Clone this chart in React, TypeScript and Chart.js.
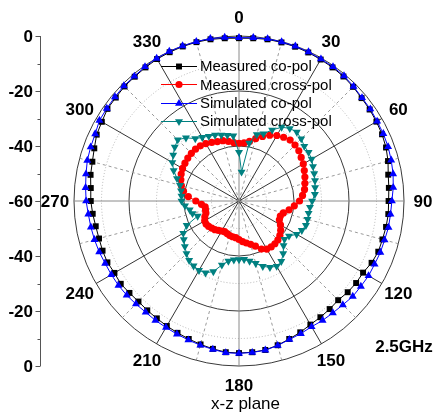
import React, { useEffect, useRef } from 'react';
import { Chart, registerables } from 'chart.js';

Chart.register(...registerables);

// Angle (degrees) of every sample around the pattern
const angles = [
  0, 5, 10, 15, 20, 25, 30, 35, 40, 45, 50, 55, 60, 65, 70, 75, 80, 85,
  90, 95, 100, 105, 110, 115, 120, 125, 130, 135, 140, 145, 150, 155, 160, 165, 170, 175,
  180, 185, 190, 195, 200, 205, 210, 215, 220, 225, 230, 235, 240, 245, 250, 255, 260, 265,
  270, 275, 280, 285, 290, 295, 300, 305, 310, 315, 320, 325, 330, 335, 340, 345, 350, 355,
];

// Normalised gain in dB
const measuredCoPol = [
  -0.8, -0.6, -0.3, -0.3, -0.3, -0.4, -0.6, -0.7, -0.9, -1.3, -1.8, -2.0, -2.3, -2.6, -3.1, -3.9, -4.9, -5.3,
  -5.6, -5.5, -5.7, -6.0, -6.1, -6.8, -7.9, -8.0, -8.4, -9.0, -8.7, -8.4, -8.1, -7.3, -6.6, -5.7, -5.0, -4.8,
  -4.7, -4.8, -5.4, -6.0, -6.6, -7.1, -7.5, -7.9, -8.1, -8.3, -8.0, -7.5, -7.7, -7.2, -7.2, -7.3, -7.1, -6.6,
  -6.1, -5.9, -5.2, -4.8, -4.0, -2.9, -2.4, -1.6, -1.5, -1.1, -1.0, -0.7, -0.4, -0.3, -0.2, -0.2, -0.3, -0.6,
];

const measuredCrossPol = [
  -39.0, -38.8, -38.0, -36.5, -35.0, -33.6, -32.5, -31.7, -31.1, -31.2, -31.6, -32.4, -33.0, -33.8, -34.5, -35.2, -35.8, -36.8,
  -38.0, -39.8, -41.5, -43.3, -44.0, -43.8, -42.6, -41.5, -40.6, -40.0, -39.7, -39.6, -39.8, -40.7, -42.5, -43.7, -44.5, -45.2,
  -46.0, -46.6, -46.8, -47.0, -47.4, -47.7, -47.4, -47.0, -46.4, -46.0, -45.6, -45.4, -45.6, -46.3, -47.2, -47.4, -47.5, -46.3,
  -44.3, -41.5, -39.5, -38.3, -37.5, -36.8, -36.3, -36.0, -35.7, -35.5, -35.4, -35.5, -35.9, -36.5, -37.0, -37.3, -38.0, -38.7,
];

const simulatedCoPol = [
  -0.6, -0.4, -0.1, -0.1, -0.1, -0.2, -0.4, -0.4, -0.6, -1.1, -1.6, -1.7, -2.0, -2.1, -2.3, -2.7, -3.1, -3.7,
  -4.4, -4.7, -4.8, -5.2, -5.3, -5.6, -5.6, -5.9, -6.0, -6.6, -6.9, -7.0, -7.2, -6.8, -6.4, -5.6, -4.9, -4.7,
  -4.6, -4.6, -5.2, -5.7, -6.2, -6.6, -6.9, -7.0, -7.2, -7.0, -6.7, -6.5, -6.4, -6.3, -5.9, -5.6, -5.3, -5.0,
  -4.4, -4.0, -3.5, -2.9, -2.6, -2.3, -1.4, -1.3, -1.1, -0.8, -0.8, -0.4, -0.1, 0.0, 0.0, 0.0, 0.0, -0.3,
];

const simulatedCrossPol = [
  -42.3, -49.4, -38.6, -35.0, -34.0, -31.5, -29.0, -27.8, -27.3, -28.0, -29.0, -29.1, -29.5, -30.3, -30.9, -31.4, -31.9, -32.3,
  -33.4, -34.1, -34.3, -34.2, -34.1, -34.8, -35.8, -37.8, -38.4, -37.1, -35.0, -33.2, -32.6, -33.4, -34.7, -36.5, -37.8, -38.7,
  -38.7, -38.5, -37.8, -35.9, -32.7, -31.2, -30.9, -31.2, -31.8, -33.0, -34.3, -35.5, -36.6, -39.0, -44.0, -42.5, -41.8, -40.3,
  -39.1, -39.0, -38.6, -37.8, -36.0, -33.8, -32.0, -30.8, -29.5, -28.5, -30.0, -32.3, -33.3, -34.0, -34.5, -35.2, -35.7, -36.2,
];

// Angle captions around the rim and the dB scale on the left
const angleTickLabels = ['0', '30', '60', '90', '120', '150', '180', '210', '240', '270', '300', '330'];
const radialTickValues = [0, -10, -20, -30, -40, -50, -60];
const radialTickLabels = ['0', '', '-20', '', '-40', '', '-60'];

const FONT = "'Liberation Sans', Arial, Helvetica, sans-serif";

const TEAL = '#008080';

type Marker = 'rect' | 'circle' | 'triangle' | 'triangleDown';

const seriesMarkers: Marker[] = ['rect', 'circle', 'triangle', 'triangleDown'];

function drawMarker(ctx: CanvasRenderingContext2D, kind: Marker, x: number, y: number, r: number, color: string) {
  ctx.fillStyle = color;
  ctx.beginPath();
  if (kind === 'rect') {
    const s = r * Math.SQRT1_2;
    ctx.rect(x - s, y - s, 2 * s, 2 * s);
  } else if (kind === 'circle') {
    ctx.arc(x, y, r, 0, Math.PI * 2);
  } else {
    const sign = kind === 'triangle' ? 1 : -1;
    for (let k = 0; k < 3; k++) {
      const a = (k * 2 * Math.PI) / 3;
      const px = x + Math.sin(a) * r;
      const py = y - sign * Math.cos(a) * r;
      if (k === 0) ctx.moveTo(px, py);
      else ctx.lineTo(px, py);
    }
    ctx.closePath();
  }
  ctx.fill();
}

const decorPlugin = {
  id: 'polarDecor',
  afterDraw(chart: any) {
    const scale = chart.scales.r;
    const ctx: CanvasRenderingContext2D = chart.ctx;
    const cx = scale.xCenter;
    const cy = scale.yCenter;
    const R = scale.getDistanceFromCenterForValue(0);

    ctx.save();

    // angle captions outside the rim
    ctx.font = `bold 17px ${FONT}`;
    ctx.fillStyle = '#000';
    ctx.textAlign = 'center';
    ctx.textBaseline = 'middle';
    angleTickLabels.forEach((lbl) => {
      const a = (Number(lbl) * Math.PI) / 180;
      const d = R + 19;
      ctx.fillText(lbl, cx + d * Math.sin(a), cy - d * Math.cos(a) + 1);
    });

    // left dB axis, mirrored about the centre
    const axisX = 40.5;
    ctx.strokeStyle = '#555';
    ctx.lineWidth = 1;
    ctx.beginPath();
    ctx.moveTo(axisX, cy - R);
    ctx.lineTo(axisX, cy + R);
    ctx.stroke();

    ctx.textAlign = 'right';
    radialTickValues.forEach((v, i) => {
      const d = scale.getDistanceFromCenterForValue(v);
      const major = radialTickLabels[i] !== '';
      const len = major ? 5 : 3;
      [-1, 1].forEach((side) => {
        const y = Math.round(cy + side * d) + 0.5;
        ctx.beginPath();
        ctx.moveTo(axisX - len, y);
        ctx.lineTo(axisX, y);
        ctx.stroke();
        if (major && !(side === 1 && v === -60)) {
          ctx.fillText(radialTickLabels[i], 33, y + 1);
        }
      });
    });

    // frequency and plane captions
    ctx.textAlign = 'center';
    ctx.fillText('2.5GHz', 404, 347);
    ctx.font = `17px ${FONT}`;
    ctx.fillText('x-z plane', 245.5, 404);

    // legend
    ctx.font = `15px ${FONT}`;
    ctx.textAlign = 'left';
    chart.data.datasets.forEach((ds: any, i: number) => {
      const y = 66 + i * 18.4;
      ctx.strokeStyle = ds.borderColor;
      ctx.lineWidth = 1;
      ctx.beginPath();
      ctx.moveTo(161, Math.round(y) + 0.5);
      ctx.lineTo(197, Math.round(y) + 0.5);
      ctx.stroke();
      drawMarker(ctx, seriesMarkers[i], 179, Math.round(y) + 0.5, ds.pointRadius, ds.pointBackgroundColor);
      ctx.fillStyle = '#000';
      ctx.fillText(ds.label, 200, y + 1);
    });

    ctx.restore();
  },
};

export default function App() {
  const canvasRef = useRef<HTMLCanvasElement>(null);

  useEffect(() => {
    const canvas = canvasRef.current;
    if (!canvas) return;

    const chart = new Chart(canvas, {
      type: 'radar',
      data: {
        labels: angles.map(String),
        datasets: [
          {
            label: 'Measured co-pol',
            data: measuredCoPol,
            borderColor: '#000000',
            backgroundColor: '#000000',
            pointBackgroundColor: '#000000',
            pointBorderColor: '#000000',
            borderWidth: 1,
            pointBorderWidth: 0,
            pointStyle: 'rect',
            pointRadius: 4.2,
            fill: false,
            order: 4,
          },
          {
            label: 'Measured cross-pol',
            data: measuredCrossPol,
            borderColor: '#ff0000',
            backgroundColor: '#ff0000',
            pointBackgroundColor: '#ff0000',
            pointBorderColor: '#ff0000',
            borderWidth: 1,
            pointBorderWidth: 0,
            pointStyle: 'circle',
            pointRadius: 3.6,
            fill: false,
            order: 3,
          },
          {
            label: 'Simulated co-pol',
            data: simulatedCoPol,
            borderColor: '#0000ff',
            backgroundColor: '#0000ff',
            pointBackgroundColor: '#0000ff',
            pointBorderColor: '#0000ff',
            borderWidth: 1,
            pointBorderWidth: 0,
            pointStyle: 'triangle',
            pointRadius: 4.6,
            fill: false,
            order: 2,
          },
          {
            label: 'Simulated cross-pol',
            data: simulatedCrossPol,
            borderColor: TEAL,
            backgroundColor: TEAL,
            pointBackgroundColor: TEAL,
            pointBorderColor: TEAL,
            borderWidth: 1,
            pointBorderWidth: 0,
            pointStyle: 'triangle',
            pointRotation: 180,
            pointRadius: 4.6,
            fill: false,
            order: 1,
          },
        ],
      },
      options: {
        responsive: false,
        animation: false,
        devicePixelRatio: 1,
        layout: { padding: { left: 74, right: 32, top: 36, bottom: 54 } },
        elements: { line: { tension: 0 } },
        plugins: {
          legend: { display: false },
          tooltip: { enabled: false },
        },
        scales: {
          r: {
            min: -60,
            max: 0,
            startAngle: 0,
            ticks: { display: false, stepSize: 10 },
            pointLabels: { display: false },
            grid: {
              circular: true,
              lineWidth: 1,
              color: (c: any) => (c.tick && c.tick.value % 20 === 0 ? '#3a3a3a' : '#b4b4b4'),
            },
            border: {
              dash: (c: any) => (c.tick && c.tick.value % 20 === 0 ? [] : [1, 2]),
            },
            angleLines: {
              display: true,
              color: (c: any) => {
                const a = angles[c.index];
                if (a % 90 === 0) return '#8a8a8a';
                if (a % 30 === 0) return '#333333';
                if (a % 15 === 0) return '#9a9a9a';
                return 'rgba(0,0,0,0)';
              },
              lineWidth: (c: any) => (angles[c.index] % 15 === 0 ? 1 : 0),
              borderDash: (c: any) => (angles[c.index] % 30 === 15 ? [3, 3] : []),
            },
          },
        },
      } as any,
      plugins: [decorPlugin],
    });

    return () => chart.destroy();
  }, []);

  return (
    <div style={{ position: 'absolute', left: 0, top: 0, width: 436, height: 420, background: '#fff' }}>
      <canvas ref={canvasRef} width={436} height={420} style={{ display: 'block', width: 436, height: 420 }} />
    </div>
  );
}
